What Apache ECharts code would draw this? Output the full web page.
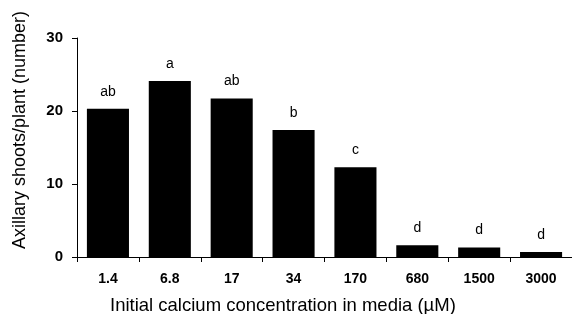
<!DOCTYPE html>
<html>
<head>
<meta charset="utf-8">
<script src="https://cdn.jsdelivr.net/npm/echarts@6/dist/echarts.min.js"></script>
<style>
  html, body { margin: 0; padding: 0; background: #fff; }
  #chart { width: 572px; height: 314px; }
</style>
</head>
<body>
<div id="chart"></div>
<script>
const categories = ['1.4', '6.8', '17', '34', '170', '680', '1500', '3000'];
const shoots = [20.3, 24.1, 21.7, 17.4, 12.3, 1.6, 1.3, 0.7];
const letters = ['ab', 'a', 'ab', 'b', 'c', 'd', 'd', 'd'];
const yTicks = [0, 10, 20, 30];

const font = '"Liberation Sans", Arial, sans-serif';
const chart = echarts.init(document.getElementById('chart'));

chart.setOption({
  animation: false,
  backgroundColor: '#fff',
  grid: { left: 77, right: -9, top: 38, bottom: 57, containLabel: false },
  xAxis: {
    type: 'category',
    data: categories,
    axisLine: { lineStyle: { color: '#000', width: 1 } },
    axisTick: { show: true, length: 5, lineStyle: { color: '#000' } },
    axisLabel: { color: '#000', fontFamily: font, fontSize: 14, fontWeight: 'bold', margin: 15 }
  },
  yAxis: {
    type: 'value',
    min: yTicks[0],
    max: yTicks[yTicks.length - 1],
    interval: 10,
    splitLine: { show: false },
    axisLine: { show: true, lineStyle: { color: '#000', width: 1 } },
    axisTick: { show: true, length: 5, lineStyle: { color: '#000' } },
    axisLabel: { color: '#000', fontFamily: font, fontSize: 15, fontWeight: 'bold', margin: 14 }
  },
  graphic: [
    {
      type: 'text',
      left: 110,
      top: 296,
      style: { text: 'Initial calcium concentration in media (µM)', fill: '#000', font: '18.5px ' + font }
    },
    {
      type: 'text',
      x: 20,
      y: 130,
      rotation: Math.PI / 2,
      style: {
        text: 'Axillary shoots/plant (number)', fill: '#000', font: '18px ' + font,
        align: 'center', verticalAlign: 'middle'
      }
    }
  ],
  series: [{
    type: 'bar',
    data: shoots,
    barWidth: '68%',
    itemStyle: { color: '#000' },
    label: {
      show: true,
      position: 'top',
      distance: 10,
      color: '#000',
      fontFamily: font,
      fontSize: 14,
      formatter: p => letters[p.dataIndex]
    }
  }]
});
</script>
</body>
</html>
